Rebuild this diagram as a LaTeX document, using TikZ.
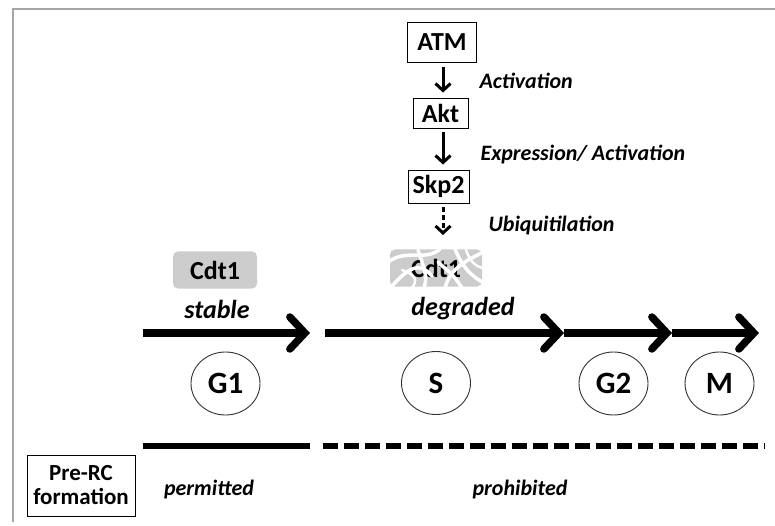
\documentclass[tikz,border=0pt]{standalone}
\usepackage{fontspec}
\setmainfont{Carlito}
\usetikzlibrary{arrows.meta,positioning,shapes.geometric}

\begin{document}
\begin{tikzpicture}[
		x=1pt, y=-1pt,
		protein/.style = {draw, line width=0.9pt, minimum height=30pt, inner xsep=4pt,
				font=\fontsize{26}{28}\selectfont\bfseries},
		cdt/.style = {fill=black!20, rounded corners=5pt, minimum width=84pt, minimum height=37pt,
				font=\fontsize{26}{28}\selectfont\bfseries},
		phase/.style = {draw=black!80, ellipse, line width=0.9pt, minimum width=69pt, minimum height=63pt,
				font=\fontsize{31}{33}\selectfont\bfseries},
		note/.style = {anchor=west, font=\fontsize{22}{24}\selectfont\bfseries\itshape},
		state/.style = {font=\fontsize{26}{28}\selectfont\bfseries\itshape},
		signal/.style = {line width=3pt, -{Straight Barb[length=7pt, width=15pt]}, shorten <=4pt, shorten >=5pt},
		cycle/.style = {line width=7.5pt, -{Straight Barb[length=15pt, width=32pt, line cap=round]}},
	]
	\useasboundingbox (0,0) rectangle (775,526);
	\draw[black!35, line width=2pt] (13,522) -- (13,9) -- (775,9);

	% signalling cascade
	\node[protein, minimum width=69pt, minimum height=40pt] (atm) at (442,42.5) {ATM};
	\node[protein, minimum width=55pt] (akt) at (440.5,113) {Akt};
	\node[protein, minimum width=61pt, minimum height=33pt] (skp) at (438.5,186.5) {Skp2};
	\coordinate (ub) at (443,240);
	\draw[signal] (atm.south -| 443,0) -- (akt.north -| 443,0);
	\draw[signal] (akt.south -| 443,0) -- (skp.north -| 443,0);
	\draw[signal, dash pattern=on 5pt off 3pt] (skp.south -| 443,0) -- (ub);
	\node[note] (act) at (476,81) {Activation};
	\node[note] (expr) at (477,155) {Expression/ Activation};
	\node[note] (ubiq) at (485,226) {Ubiquitilation};

	% Cdt1 stable / degraded
	\node[cdt] (cdtA) at (215,270) {Cdt1};
	\node[state] (stab) at (217,309) {stable};
	\node[cdt, minimum width=92pt] (cdtB) at (436,268) {Cdt1};
	\begin{scope}[white, line width=3.5pt, line cap=round]
		\draw (388,262) .. controls (408,248) and (425,262) .. (440,249);
		\draw (392,286) .. controls (410,266) and (420,262) .. (432,276);
		\draw (418,250) .. controls (424,268) and (428,276) .. (424,288);
		\draw (445,288) .. controls (450,270) and (462,262) .. (484,252);
		\draw (455,249) .. controls (462,266) and (470,276) .. (486,284);
		\draw (438,262) .. controls (446,270) and (452,272) .. (462,288);
		\draw[line width=2.5pt] (402,270) .. controls (414,274) and (420,280) .. (410,290);
		\draw[line width=2.5pt] (466,250) .. controls (470,262) and (476,266) .. (482,268);
	\end{scope}
	\node[state] (degr) at (463,309) {degraded};

	% cell cycle
	\coordinate (c0) at (143,333);
	\coordinate (c1) at (310,333);
	\coordinate (c2) at (325,333);
	\coordinate (c3) at (564,333);
	\coordinate (c4) at (672,333);
	\coordinate (c5) at (759,333);
	\draw[cycle] (c0) -- (c1);
	\draw[cycle] (c2) -- (c3);
	\draw[cycle] (c3) -- (c4);
	\draw[cycle] (c4) -- (c5);
	\node[phase] (g1) at (225.5,383.5) {G1};
	\node[phase] (s) at (436,383) {S};
	\node[phase] (g2) at (613.5,383.5) {G2};
	\node[phase] (m) at (719.5,383.5) {M};

	% pre-RC formation
	\coordinate (p0) at (143,446);
	\coordinate (p1) at (310,446);
	\coordinate (p2) at (323,446);
	\coordinate (p3) at (765,446);
	\draw[line width=5.5pt] (p0) -- (p1);
	\draw[line width=5.5pt, dash pattern=on 15pt off 6pt] (p2) -- (p3);
	\node[draw, line width=0.9pt, align=center, minimum width=108pt, minimum height=61pt,
		font=\fontsize{23}{24}\selectfont\bfseries] (prerc) at (81,485.5) {Pre-RC\\formation};
	\node[note, anchor=center] (perm) at (209,490) {permitted};
	\node[note, anchor=center] (proh) at (520,490) {prohibited};
\end{tikzpicture}
\end{document}
